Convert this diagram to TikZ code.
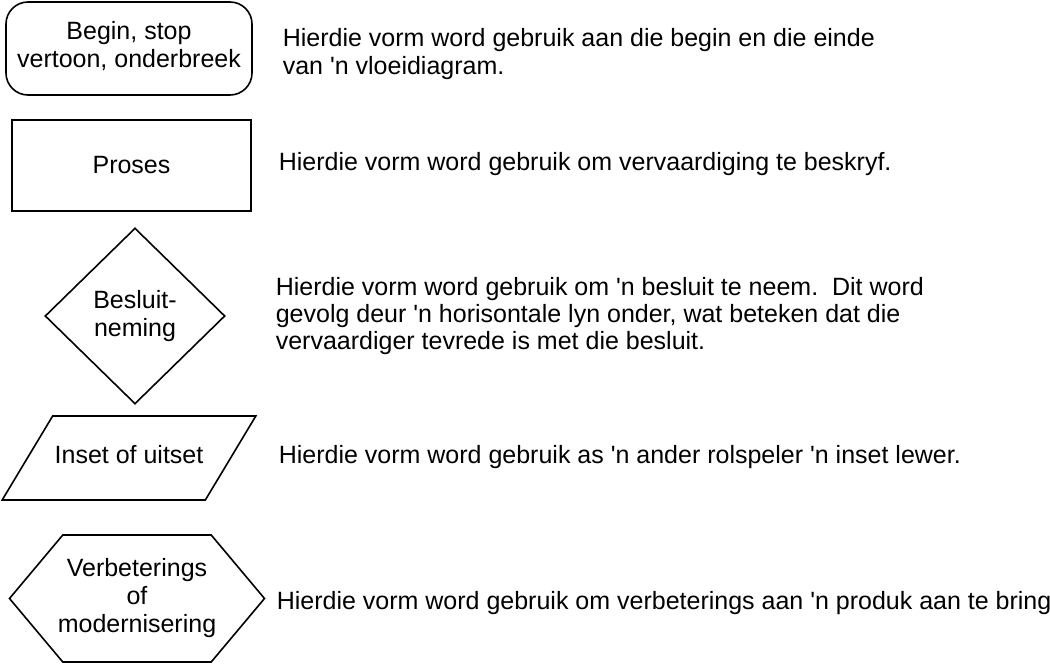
\documentclass[tikz,border=0pt]{standalone}
\usepackage{fontspec}
\setmainfont{Liberation Sans}
\usepackage{tikz}
\usetikzlibrary{shapes.geometric,shapes.symbols,positioning}
\tikzset{%
	startstop/.style = {draw, rectangle, rounded corners=11pt, minimum width=123pt, minimum height=46.5pt, text centered, align=center},
	process/.style   = {draw, rectangle, minimum width=119.5pt, minimum height=45.5pt, text centered},
	decision/.style  = {draw, diamond, minimum width=90pt, minimum height=88pt, inner sep=0pt, text centered, align=center},
	inout/.style     = {draw, trapezium, trapezium left angle=59, trapezium right angle=121, text height=9pt, text depth=3.5pt, inner xsep=1pt, inner ysep=14.75pt, text centered},
	improve/.style   = {draw, signal, signal to=west and east, signal pointer angle=100, minimum height=63.5pt, inner xsep=-2.5pt, inner ysep=0pt, text centered, align=center, font=\fontsize{12.5}{14}\selectfont},
	uitleg/.style    = {anchor=west, align=left, inner sep=0pt},
}
\newcommand{\ap}{\textquotesingle}

\begin{document}
\begin{tikzpicture}[x=0.5pt,y=-0.5pt,line width=0.8pt,font=\fontsize{12.5}{13.6}\selectfont]
	\useasboundingbox (0,0) rectangle (1050,664);
	
	\node[startstop] (begin) at (129,48.5) {Begin, stop\\vertoon, onderbreek\vphantom{p}\rule[-4pt]{0pt}{0pt}};
	\node[process] (proses) at (131.5,165.5) {Proses};
	\node[decision] (besluit) at (135,316) {Besluit-\\neming};
	\node[inout] (inset) at (129,458) {Inset of uitset};
	\node[improve] (verbeter) at (137,598.5) {Verbeterings\\of\\modernisering};
	
	\node[uitleg] (uitbegin) at (282,54) {Hierdie vorm word gebruik aan die begin en die einde\\van \ap n vloeidiagram.};
	\node[uitleg] (uitproses) at (278,164) {Hierdie vorm word gebruik om vervaardiging te beskryf.};
	\node[uitleg] (uitbesluit) at (275,316) {Hierdie vorm word gebruik om \ap n besluit te neem.\ \ Dit word\\gevolg deur \ap n horisontale lyn onder, wat beteken dat die\\vervaardiger tevrede is met die besluit.};
	\node[uitleg] (uitinset) at (278,457) {Hierdie vorm word gebruik as \ap n ander rolspeler \ap n inset lewer.};
	\node[uitleg] (uitverbeter) at (276,603) {Hierdie vorm word gebruik om verbeterings aan \ap n produk aan te bring};
\end{tikzpicture}
\end{document}
